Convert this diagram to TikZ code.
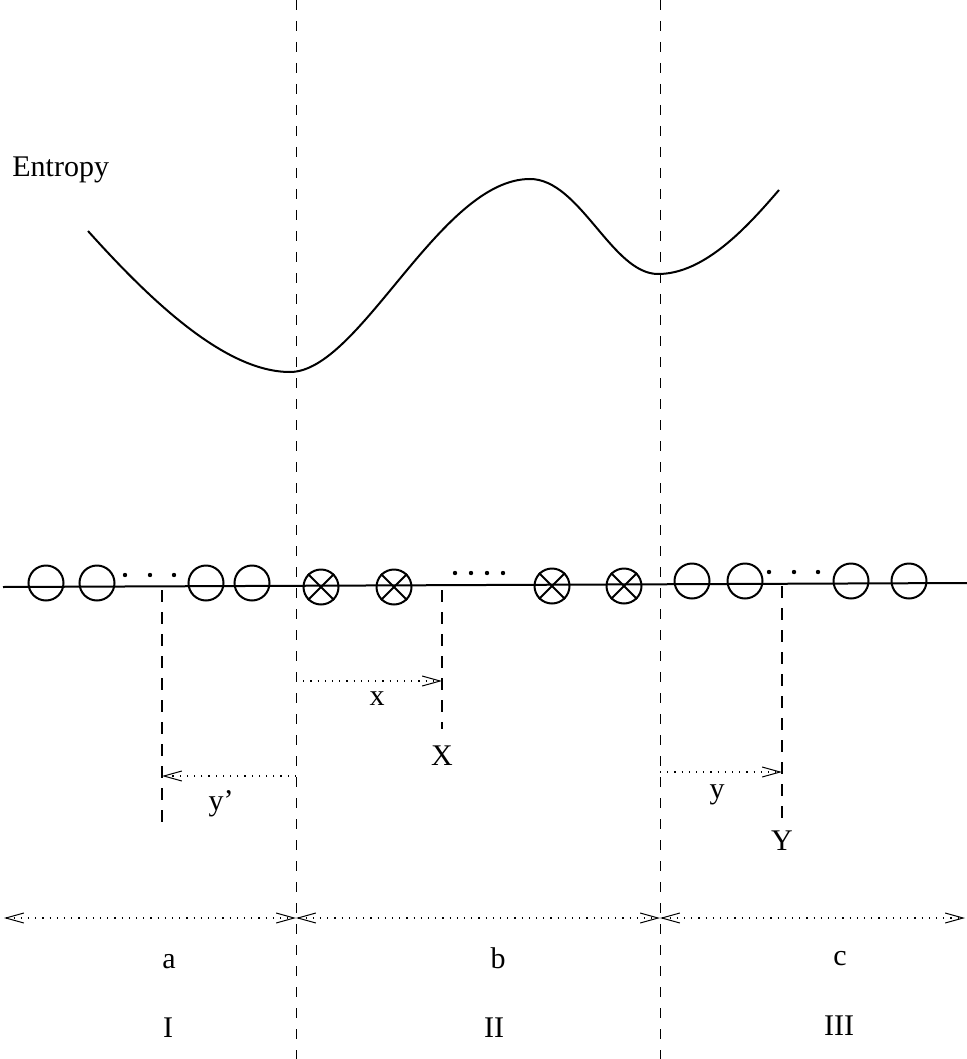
\documentclass[tikz,border=0pt]{standalone}
\usepackage{fontspec}
\setmainfont{Liberation Serif}
\usetikzlibrary{arrows.meta}
\begin{document}
\begin{tikzpicture}[x=0.5pt,y=-0.5pt,
  lbl/.style={inner sep=0pt,anchor=base,font=\fontsize{15}{18}\selectfont},
  vdash/.style={line width=0.5pt,dash pattern=on 5pt off 5.5pt},
  sdash/.style={line width=0.6pt,dash pattern=on 6pt off 5pt},
  dimline/.style={line width=0.6pt,dash pattern=on 0.6pt off 3pt,
    arrows={-Straight Barb[length=9pt,width=5pt,line width=0.5pt]}},
  dimboth/.style={dimline,arrows={Straight Barb[length=9pt,width=5pt,line width=0.5pt]-Straight Barb[length=9pt,width=5pt,line width=0.5pt]}},
  ring/.style={circle,draw,line width=1pt,minimum size=17.5pt,inner sep=0pt},
  xring/.style={ring},
  dotmark/.style={circle,fill,inner sep=0pt,minimum size=2.2pt}]
\useasboundingbox (0,0) rectangle (967,1059);

% long vertical dashed lines
\coordinate (Ltop) at (296,0);
\coordinate (Lbot) at (296,1059);
\coordinate (Rtop) at (660,0);
\coordinate (Rbot) at (660,1059);
\draw[vdash] (Ltop) -- (Lbot);
\draw[vdash] (Rtop) -- (Rbot);

% entropy label and curve
\node[lbl,anchor=base west] (entropy) at (12,177) {Entropy};
\draw[line width=1pt]
  (88,231) .. controls (150,300) and (225,372) .. (290,372)
  .. controls (360,372) and (440,179) .. (530,179)
  .. controls (580,179) and (612,274) .. (658,274)
  .. controls (705,274) and (748,226) .. (779,190);

% main horizontal line
\coordinate (hl) at (3,587);
\coordinate (hr) at (967,583);
\draw[line width=1pt] (hl) -- (hr);

% circles region I
\node[ring] (c1) at (46,583) {};
\node[ring] (c2) at (97,583) {};
\node[ring] (c3) at (206,583) {};
\node[ring] (c4) at (252,583) {};
\node[dotmark] (d1) at (125,575) {};
\node[dotmark] (d2) at (150,575) {};
\node[dotmark] (d3) at (174,575) {};

% crossed circles region II
\node[xring] (o1) at (321,587) {};
\node[xring] (o2) at (394,587) {};
\node[xring] (o3) at (552,586) {};
\node[xring] (o4) at (624,586) {};
\foreach \o in {o1,o2,o3,o4}{
  \draw[line width=1pt] (\o.north east) -- (\o.south west);
  \draw[line width=1pt] (\o.north west) -- (\o.south east);
}
\node[dotmark] (d4) at (455,573) {};
\node[dotmark] (d5) at (471,573) {};
\node[dotmark] (d6) at (487,573) {};
\node[dotmark] (d7) at (503,573) {};

% circles region III
\node[ring] (c5) at (692,581) {};
\node[ring] (c6) at (745,581) {};
\node[ring] (c7) at (851,581) {};
\node[ring] (c8) at (909,581) {};
\node[dotmark] (d8) at (769,572) {};
\node[dotmark] (d9) at (794,572) {};
\node[dotmark] (d10) at (818,572) {};

% short dashed markers
\coordinate (m1t) at (162,590);
\coordinate (m1b) at (162,826);
\coordinate (m2t) at (442,590);
\coordinate (m2b) at (442,729);
\coordinate (m3t) at (782,586);
\coordinate (m3b) at (782,821);
\draw[sdash] (m1t) -- (m1b);
\draw[sdash] (m2t) -- (m2b);
\draw[sdash] (m3t) -- (m3b);

% dimension arrows
\coordinate (xs) at (296,681);
\coordinate (xe) at (442,681);
\draw[dimline] (xs) -- (xe);
\node[lbl] (xl) at (377,705) {x};
\node[lbl] (Xl) at (442,765) {X};

\coordinate (ys) at (296,776);
\coordinate (ye) at (162,776);
\draw[dimline] (ys) -- (ye);
\node[lbl] (ypl) at (221,810) {y'};

\coordinate (y2s) at (660,772);
\coordinate (y2e) at (782,772);
\draw[dimline] (y2s) -- (y2e);
\node[lbl] (yl) at (717,798) {y};
\node[lbl] (Yl) at (782,850) {Y};

% bottom region arrows
\coordinate (b0) at (4,918);
\coordinate (b1) at (296,918);
\coordinate (b2) at (660,918);
\coordinate (b3) at (965,918);
\draw[dimboth] (b0) -- (b1);
\draw[dimboth] (b1) -- (b2);
\draw[dimboth] (b2) -- (b3);

\node[lbl] (la) at (169,968) {a};
\node[lbl] (lb) at (498,968) {b};
\node[lbl] (lc) at (840,965) {c};
\node[lbl] (l1) at (168,1037) {I};
\node[lbl] (l2) at (494,1037) {II};
\node[lbl] (l3) at (839,1035) {III};
\end{tikzpicture}
\end{document}
